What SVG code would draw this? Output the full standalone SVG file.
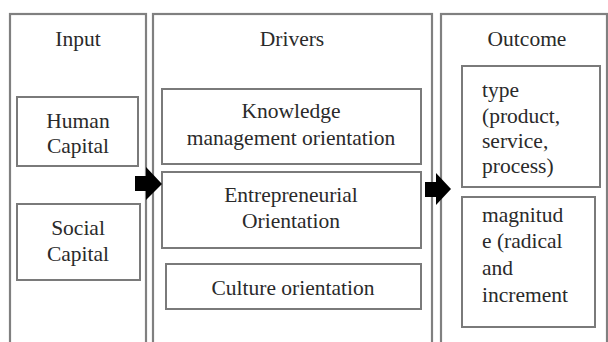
<svg xmlns="http://www.w3.org/2000/svg" width="608" height="342" viewBox="0 0 608 342">
<style>
.col{fill:none;stroke:#808080;stroke-width:2.2}
.box{fill:none;stroke:#7a7a7a;stroke-width:2}
.t{font-size:21.5px;fill:#2a2a2a}
.c{text-anchor:middle}
.arr{fill:#000}
</style>
<rect width="608" height="342" fill="#fff"/>
<g font-family="Liberation Serif, DejaVu Serif, serif">
<g id="input">
<rect class="col" x="10" y="14" width="136" height="340"/>
<text class="t c" x="78" y="46">Input</text>
</g>
<g id="human-capital">
<rect class="box" x="17" y="97" width="121" height="69"/>
<text class="t c" x="78" y="128">Human</text>
<text class="t c" x="78" y="153">Capital</text>
</g>
<g id="social-capital">
<rect class="box" x="17" y="204" width="123" height="76"/>
<text class="t c" x="78" y="235">Social</text>
<text class="t c" x="78" y="261">Capital</text>
</g>
<g id="drivers">
<rect class="col" x="153" y="14" width="279" height="340"/>
<text class="t c" x="292" y="46">Drivers</text>
</g>
<g id="knowledge">
<rect class="box" x="162" y="89" width="259" height="75"/>
<text class="t c" x="291" y="118">Knowledge</text>
<text class="t c" x="291" y="145">management orientation</text>
</g>
<g id="entrepreneurial">
<rect class="box" x="162" y="172" width="259" height="76"/>
<text class="t c" x="291" y="202">Entrepreneurial</text>
<text class="t c" x="291" y="228">Orientation</text>
</g>
<g id="culture">
<rect class="box" x="166" y="264" width="255" height="45"/>
<text class="t c" x="293" y="295">Culture orientation</text>
</g>
<g id="outcome">
<rect class="col" x="441" y="14" width="166" height="340"/>
<text class="t c" x="527" y="46">Outcome</text>
</g>
<g id="type">
<rect class="box" x="462" y="66" width="138" height="121"/>
<text class="t" x="482" y="97">type</text>
<text class="t" x="482" y="123">(product,</text>
<text class="t" x="482" y="148">service,</text>
<text class="t" x="482" y="173">process)</text>
</g>
<g id="magnitude">
<rect class="box" x="462" y="197" width="133" height="130"/>
<text class="t" x="482" y="222">magnitud</text>
<text class="t" x="482" y="248">e (radical</text>
<text class="t" x="482" y="275">and</text>
<text class="t" x="482" y="302">increment</text>
</g>
</g>
<g id="connectors">
<polygon class="arr" points="135,176 146,176 146,167 162,184 146,200 146,191 135,191"/>
<polygon class="arr" points="425,182 436,182 436,173 451,189 436,205 436,197 425,197"/>
</g>
</svg>
